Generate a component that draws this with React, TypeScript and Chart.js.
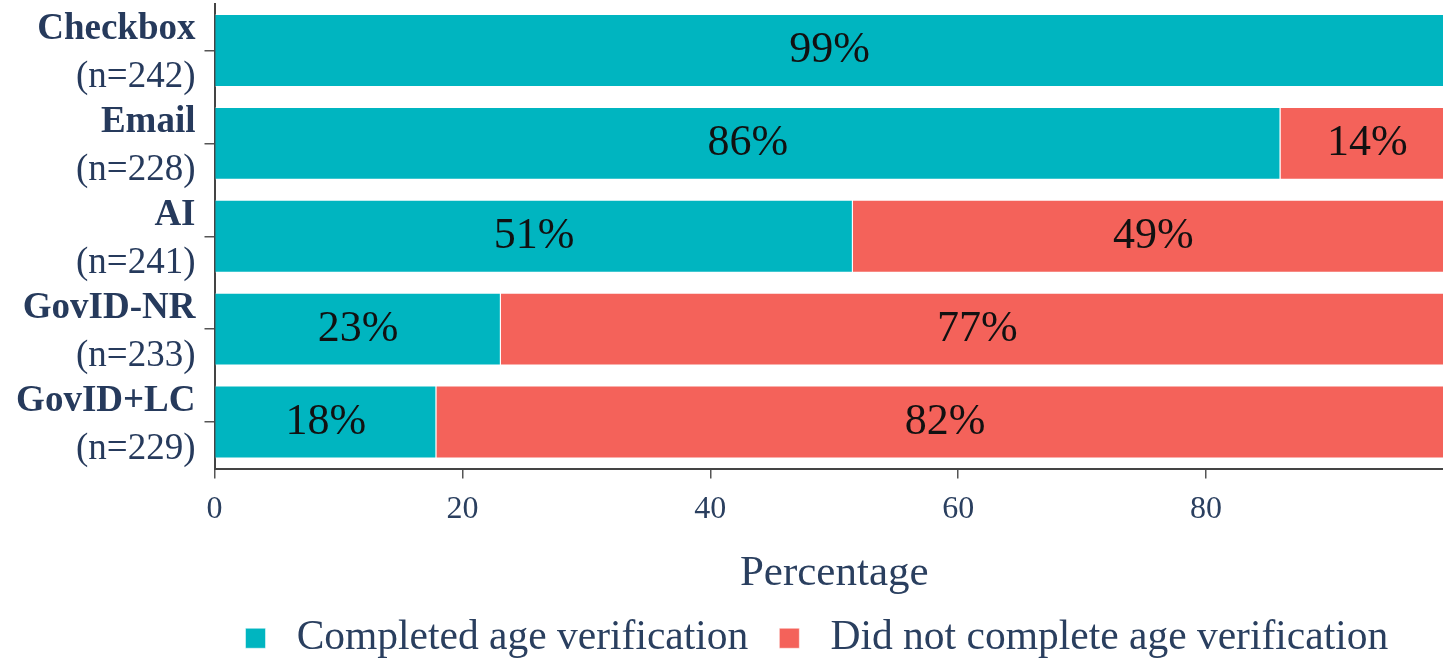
import { useEffect, useRef } from 'react';
import { Chart, registerables } from 'chart.js';

Chart.register(...registerables);

const categories = ['Checkbox', 'Email', 'AI', 'GovID-NR', 'GovID+LC'];
const sampleSizes = [242, 228, 241, 233, 229];
const completed = [99.2, 86, 51.5, 23.1, 17.9];
const notCompleted = [0.8, 14, 48.5, 76.9, 82.1];
const completedLabels = ['99%', '86%', '51%', '23%', '18%'];
const notCompletedLabels = ['1%', '14%', '49%', '77%', '82%'];
const seriesNames = ['Completed age verification', 'Did not complete age verification'];
const xTickValues = [0, 20, 40, 60, 80];

const FONT = '"Liberation Serif", "Times New Roman", "DejaVu Serif", serif';
const TEAL = '#00b5c0';
const RED = '#f4625a';
const NAVY = '#263a5c';
const TEXT = '#2a3f5f';

const valueLabels = [completedLabels, notCompletedLabels];

const labelsPlugin = {
  id: 'customLabels',
  afterDatasetsDraw(chart: any) {
    const { ctx, chartArea } = chart;
    ctx.save();
    ctx.beginPath();
    ctx.rect(chartArea.left, chartArea.top, chartArea.right - chartArea.left, chartArea.bottom - chartArea.top);
    ctx.clip();
    ctx.font = `44px ${FONT}`;
    ctx.fillStyle = '#111111';
    ctx.textAlign = 'center';
    ctx.textBaseline = 'middle';
    chart.data.datasets.forEach((_ds: any, di: number) => {
      const meta = chart.getDatasetMeta(di);
      meta.data.forEach((bar: any, i: number) => {
        const { x, base, y } = bar.getProps(['x', 'base', 'y'], true);
        const text = valueLabels[di][i];
        const w = Math.abs(x - base);
        if (w < ctx.measureText(text).width + 8) return;
        ctx.fillText(text, (x + base) / 2, y);
      });
    });
    ctx.restore();
  },
  afterDraw(chart: any) {
    const { ctx } = chart;
    const yScale = chart.scales.y;
    ctx.save();
    ctx.fillStyle = NAVY;
    ctx.textAlign = 'right';
    ctx.textBaseline = 'alphabetic';
    const xr = yScale.right - 19;
    categories.forEach((name, i) => {
      const y = yScale.getPixelForValue(i);
      ctx.font = `bold 37px ${FONT}`;
      ctx.fillText(name, xr, y - 11);
      ctx.font = `37px ${FONT}`;
      ctx.fillText(`(n=${sampleSizes[i]})`, xr, y + 37);
    });
    ctx.restore();
  },
};

export default function App() {
  const ref = useRef<HTMLCanvasElement>(null);

  useEffect(() => {
    document.body.style.margin = '0';
    document.body.style.overflow = 'hidden';
    const canvas = ref.current;
    if (!canvas) return;
    const chart = new Chart(canvas, {
      type: 'bar',
      data: {
        labels: categories,
        datasets: [
          {
            label: seriesNames[0],
            data: completed,
            backgroundColor: TEAL,
            borderColor: 'rgba(255,255,255,0.5)',
            borderWidth: 1,
            categoryPercentage: 1,
            barPercentage: 0.785,
          },
          {
            label: seriesNames[1],
            data: notCompleted,
            backgroundColor: RED,
            borderColor: 'rgba(255,255,255,0.5)',
            borderWidth: 1,
            categoryPercentage: 1,
            barPercentage: 0.785,
          },
        ],
      },
      options: {
        indexAxis: 'y',
        animation: false,
        responsive: false,
        maintainAspectRatio: false,
        layout: { padding: { top: 4, bottom: -6, left: 0, right: 0 } },
        scales: {
          x: {
            type: 'linear',
            stacked: true,
            min: 0,
            max: 100,
            afterBuildTicks: (scale: any) => {
              scale.ticks = xTickValues.map((v) => ({ value: v }));
            },
            afterFit: (scale: any) => {
              scale.height = 118;
            },
            ticks: {
              padding: 12,
              color: TEXT,
              font: { family: FONT, size: 32 },
              callback: (v: any) => String(v),
            },
            grid: {
              display: true,
              drawOnChartArea: false,
              drawTicks: true,
              tickLength: 10,
              color: '#555555',
              lineWidth: 1.5,
            },
            border: { display: true, color: '#444444', width: 2 },
            title: {
              display: true,
              text: 'Percentage',
              color: TEXT,
              font: { family: FONT, size: 43, lineHeight: '26px' },
              padding: { top: 0, bottom: 0 },
            },
          },
          y: {
            type: 'category',
            stacked: true,
            afterFit: (scale: any) => {
              scale.width = 214.5;
              scale.paddingTop = 0;
              scale.paddingBottom = 0;
            },
            ticks: {
              padding: 0,
              font: { size: 1, lineHeight: 0 },
              callback: () => '',
            },
            grid: {
              display: true,
              offset: false,
              drawOnChartArea: false,
              drawTicks: true,
              tickLength: 10,
              color: '#555555',
              lineWidth: 1.5,
            },
            border: { display: true, color: '#444444', width: 2 },
          },
        },
        plugins: {
          tooltip: { enabled: false },
          legend: {
            display: true,
            position: 'bottom',
            fullSize: false,
            align: 'start',
            labels: {
              boxWidth: 20,
              boxHeight: 20,
              padding: 31,
              color: TEXT,
              font: { family: FONT, size: 41.5 },
              generateLabels: (chart: any) =>
                Chart.defaults.plugins.legend.labels
                  .generateLabels(chart)
                  .map((item: any) => ({ ...item, text: ' ' + item.text })),
            },
          },
        },
      },
      plugins: [labelsPlugin],
    } as any);
    return () => chart.destroy();
  }, []);

  return (
    <div style={{ width: 1443, height: 663, overflow: 'hidden', position: 'relative' }}>
      <canvas ref={ref} width={1454} height={663} style={{ display: 'block', width: 1454, height: 663 }} />
    </div>
  );
}
